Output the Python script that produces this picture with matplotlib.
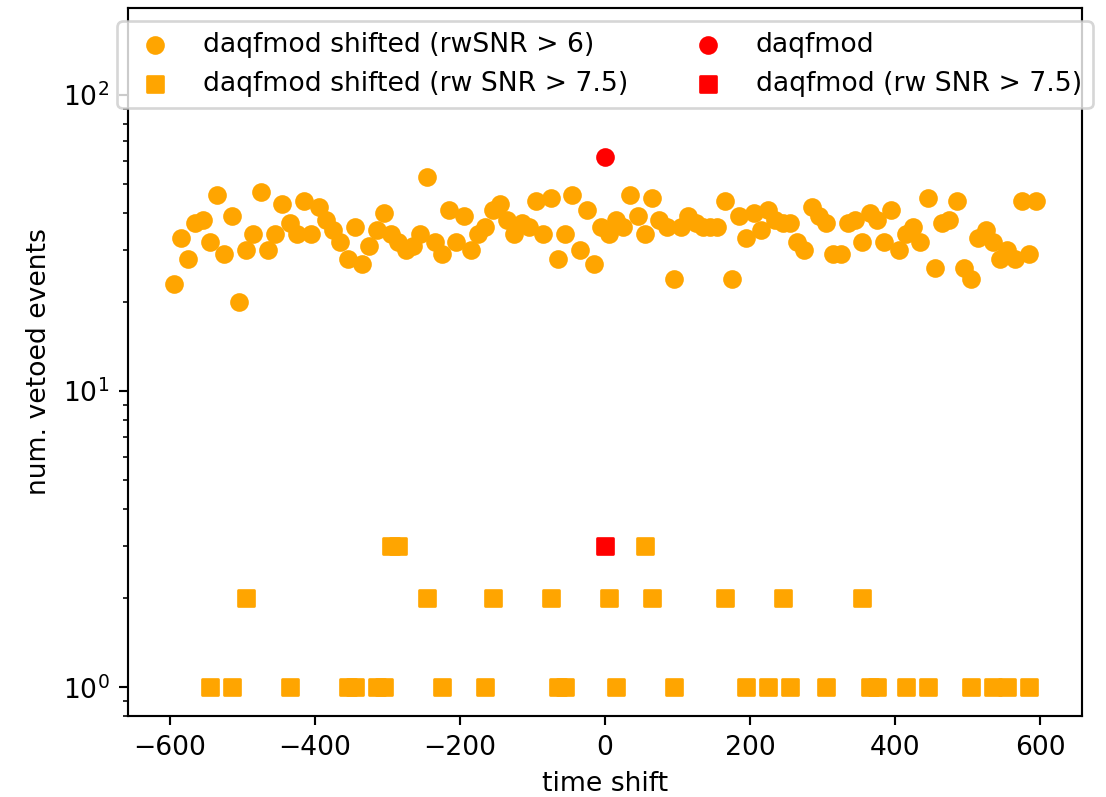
import numpy as np
import matplotlib
matplotlib.use("Agg")
import matplotlib.pyplot as plt

# time shifts of the shifted runs (rwSNR > 6)
shifts = np.arange(-595, 600, 10)
counts_rw6 = [23, 33, 28, 37, 38, 32, 46, 29, 39, 20,
              30, 34, 47, 30, 34, 43, 37, 34, 44, 34,
              42, 38, 35, 32, 28, 36, 27, 31, 35, 40,
              34, 32, 30, 31, 34, 53, 32, 29, 41, 32,
              39, 30, 34, 36, 41, 43, 38, 34, 37, 36,
              44, 34, 45, 28, 34, 46, 30, 41, 27, 36,
              34, 38, 36, 46, 39, 34, 45, 38, 36, 24,
              36, 39, 37, 36, 36, 36, 44, 24, 39, 33,
              40, 35, 41, 38, 37, 37, 32, 30, 42, 39,
              37, 29, 29, 37, 38, 32, 40, 38, 32, 41,
              30, 34, 36, 32, 45, 26, 37, 38, 44, 26,
              24, 33, 35, 32, 28, 30, 28, 44, 29, 44]

# shifted runs with rw SNR > 7.5 (only nonzero counts shown)
shifts_rw75 = [-545, -515, -435, -355, -345, -315, -305, -225, -165, -65,
               -55, 15, 95, 195, 225, 255, 305, 365, 375, 415,
               445, 505, 535, 555, 585,
               -495, -245, -155, -75, 5, 65, 165, 245, 355,
               -295, -285, 55]
counts_rw75 = [1] * 25 + [2] * 9 + [3] * 3

# unshifted daqfmod
zero_count_rw6 = 62
zero_count_rw75 = 3

fig = plt.figure(figsize=(1106 / 192, 797 / 192), dpi=192)
ax = fig.add_axes([0.1157, 0.1016, 0.8626, 0.8884])

ax.scatter(shifts, counts_rw6, color="orange", marker="o", label="daqfmod shifted (rwSNR > 6)")
ax.scatter(shifts_rw75, counts_rw75, color="orange", marker="s", label="daqfmod shifted (rw SNR > 7.5)")
ax.scatter([0], [zero_count_rw6], color="red", marker="o", label="daqfmod")
ax.scatter([0], [zero_count_rw75], color="red", marker="s", label="daqfmod (rw SNR > 7.5)")

ax.set_yscale("log")
ax.set_xlim(-658, 658)
ax.set_ylim(0.8, 197)
ax.set_xlabel("time shift")
ax.set_ylabel("num. vetoed events")
ax.legend(loc="upper center", ncol=2)

fig.savefig("out.png", dpi=192)
